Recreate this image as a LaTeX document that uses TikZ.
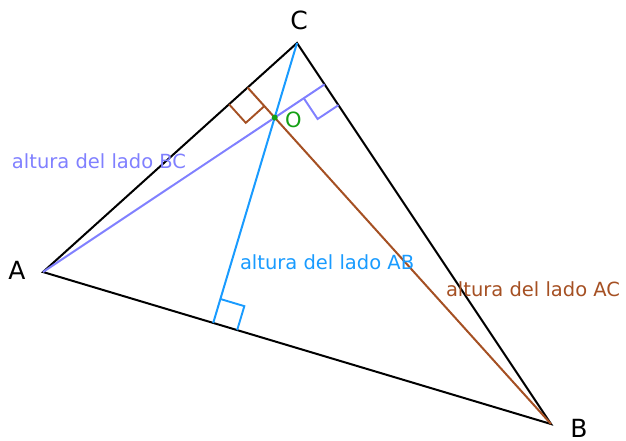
\documentclass[tikz,border=0pt]{standalone}
\usepackage{fontspec}
\setmainfont{DejaVu Sans}
\usetikzlibrary{calc,positioning}
\definecolor{altBC}{RGB}{128,128,255}
\definecolor{altAB}{RGB}{25,155,255}
\definecolor{altAC}{RGB}{165,80,35}
\definecolor{ortho}{RGB}{20,160,20}

\begin{document}
\begin{tikzpicture}[
  x=1pt, y=-1pt,
  line width=2pt,
  every node/.style={inner sep=0pt},
  vertex/.style={font=\fontsize{25}{29}\selectfont},
  altlabel/.style={anchor=base west, font=\fontsize{19.5}{23}\selectfont},
  rightmark/.style={line width=1.9pt}
]
\useasboundingbox (0,0) rectangle (626,440);

\coordinate (A) at (43,272);
\coordinate (B) at (551,424);
\coordinate (C) at (297,43);

\coordinate (HA) at ($(B)!(A)!(C)$);
\coordinate (HB) at ($(A)!(B)!(C)$);
\coordinate (HC) at ($(A)!(C)!(B)$);
\coordinate (O) at (intersection of A--HA and B--HB);

\draw (A) -- (B) -- (C) -- cycle;

\draw[altBC] (A) -- (HA);
\draw[altAB] (C) -- (HC);
\draw[altAC] (B) -- (HB);

\draw[altBC, rightmark] ($(HA)!25pt!(A)$) -- ($(HA)!25pt!(A)+(HA)!25pt!(B)-(HA)$) -- ($(HA)!25pt!(B)$);
\draw[altAB, rightmark] ($(HC)!25pt!(C)$) -- ($(HC)!25pt!(C)+(HC)!25pt!(B)-(HC)$) -- ($(HC)!25pt!(B)$);
\draw[altAC, rightmark] ($(HB)!25pt!(B)$) -- ($(HB)!25pt!(B)+(HB)!25pt!(A)-(HB)$) -- ($(HB)!25pt!(A)$);

\fill[ortho] (O) circle (3pt);

\node[vertex] (lA) at (17,270) {A};
\node[vertex] (lB) at (579,428) {B};
\node[vertex] (lC) at (299,20) {C};
\node[vertex, text=ortho, anchor=base west, font=\fontsize{21}{25}\selectfont] (lO) at (284,127) {O};

\node[altlabel, text=altBC] (tBC) at (11,168) {altura del lado BC};
\node[altlabel, text=altAB] (tAB) at (239,269) {altura del lado AB};
\node[altlabel, text=altAC] (tAC) at (445,296) {altura del lado AC};
\end{tikzpicture}
\end{document}
